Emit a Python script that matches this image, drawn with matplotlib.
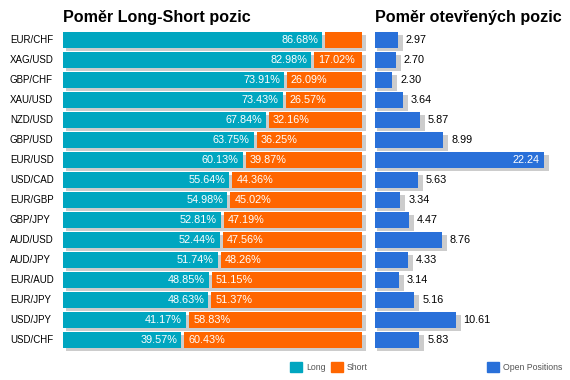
import matplotlib
matplotlib.use("Agg")
import matplotlib.pyplot as plt
from matplotlib.patches import Rectangle

pairs = ["EUR/CHF", "XAG/USD", "GBP/CHF", "XAU/USD", "NZD/USD", "GBP/USD", "EUR/USD",
         "USD/CAD", "EUR/GBP", "GBP/JPY", "AUD/USD", "AUD/JPY", "EUR/AUD", "EUR/JPY",
         "USD/JPY", "USD/CHF"]
long_pct = [86.68, 82.98, 73.91, 73.43, 67.84, 63.75, 60.13, 55.64, 54.98, 52.81,
            52.44, 51.74, 48.85, 48.63, 41.17, 39.57]
short_pct = [13.32, 17.02, 26.09, 26.57, 32.16, 36.25, 39.87, 44.36, 45.02, 47.19,
             47.56, 48.26, 51.15, 51.37, 58.83, 60.43]
open_pos = [2.97, 2.70, 2.30, 3.64, 5.87, 8.99, 22.24, 5.63, 3.34, 4.47, 8.76, 4.33,
            3.14, 5.16, 10.61, 5.83]

TEAL = "#00a6c0"
ORANGE = "#ff6600"
BLUE = "#2970d9"
SHADOW = "#cccccc"

plt.rcParams['font.family'] = ['Liberation Sans', 'DejaVu Sans']

W, H = 570, 380
fig = plt.figure(figsize=(W / 100, H / 100), dpi=100)

def frac(x0, y_top, w, h):
    return [x0 / W, (H - y_top - h) / H, w / W, h / H]

top_px = 29.7
ax_h = 320
axL = fig.add_axes(frac(63, top_px, 299, ax_h))
axR = fig.add_axes(frac(375, top_px, 190, ax_h))

n = len(pairs)
ys = list(range(n))
bh = 0.8
for ax in (axL, axR):
    ax.set_ylim(n - 0.5, -0.5)
    ax.axis("off")

# Left panel
axL.set_xlim(0, 100)
px = 100 / 299.0  # data units per pixel
gap = 3 * px
axL.barh([y + 0.15 for y in ys], [100 + 1.2 * px] * n, left=3 * px, height=bh,
         color=SHADOW, clip_on=False, zorder=1)
axL.barh(ys, long_pct, height=bh, color=TEAL, zorder=2)
axL.barh(ys, [s - gap for s in short_pct], left=[l + gap for l in long_pct],
         height=bh, color=ORANGE, zorder=2)
for y, l, s, p in zip(ys, long_pct, short_pct, pairs):
    axL.annotate(f"{l:.2f}%", (l, y), xytext=(-4, 0), textcoords="offset pixels",
                 ha="right", va="center", color="white", fontsize=7.8, zorder=3)
    if s >= 15:
        axL.annotate(f"{s:.2f}%", (l + gap, y), xytext=(4, 0), textcoords="offset pixels",
                     ha="left", va="center", color="white", fontsize=7.8, zorder=3)
    axL.annotate(p, (0, y), xytext=(-53, 0), textcoords="offset pixels",
                 ha="left", va="center", color="black", fontsize=7, zorder=3,
                 annotation_clip=False)

# Right panel
axR.set_xlim(0, 190 / 7.6)
rpx = 1 / 7.6
axR.barh([y + 0.15 for y in ys], [v + 3 * rpx for v in open_pos], left=2 * rpx,
         height=bh, color=SHADOW, clip_on=False, zorder=1)
axR.barh(ys, open_pos, height=bh, color=BLUE, zorder=2)
vmax = max(open_pos)
for y, v in zip(ys, open_pos):
    if v == vmax:
        axR.annotate(f"{v:.2f}", (v, y), xytext=(-5, 0), textcoords="offset pixels",
                     ha="right", va="center", color="white", fontsize=7.8, zorder=3)
    else:
        axR.annotate(f"{v:.2f}", (v, y), xytext=(8, 0), textcoords="offset pixels",
                     ha="left", va="center", color="black", fontsize=7.8, zorder=3)

# Titles
fig.text(63 / W, (H - 22) / H, "Poměr Long-Short pozic", fontsize=11.6, fontweight="bold",
         ha="left", va="baseline", color="black")
fig.text(375 / W, (H - 22) / H, "Poměr otevřených pozic", fontsize=11.6, fontweight="bold",
         ha="left", va="baseline", color="black")

# Legends
def legend_item(x, label, color):
    fig.patches.append(Rectangle((x / W, (H - 372) / H), 12 / W, 10 / H,
                                 transform=fig.transFigure, color=color))
    fig.text((x + 16) / W, (H - 367) / H, label, fontsize=6.3, color="#555555",
             ha="left", va="center")

legend_item(290, "Long", TEAL)
legend_item(331, "Short", ORANGE)
legend_item(487, "Open Positions", BLUE)

fig.savefig("out.png", dpi=100)
